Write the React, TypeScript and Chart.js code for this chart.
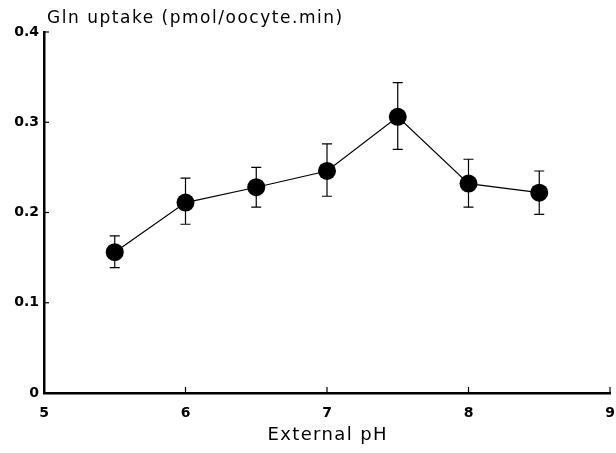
import React, { useEffect, useRef } from "react";
import { Chart, registerables } from "chart.js";

Chart.register(...registerables);

const phValues = [5.5, 6, 6.5, 7, 7.5, 8, 8.5];
const uptake = [0.156, 0.211, 0.228, 0.246, 0.306, 0.232, 0.222];
const errUpper = [0.174, 0.238, 0.25, 0.276, 0.344, 0.259, 0.246];
const errLower = [0.139, 0.187, 0.206, 0.218, 0.27, 0.206, 0.198];
const xTickValues = [5, 6, 7, 8, 9];
const yTickValues = [0, 0.1, 0.2, 0.3, 0.4];
const yTitle = "Gln uptake (pmol/oocyte.min)";
const xTitle = "External pH";

const FONT = "'DejaVu Sans', 'Liberation Sans', Arial, sans-serif";

const drawSpaced = (ctx: CanvasRenderingContext2D, text: string, x: number, y: number, targetWidth: number, align: "left" | "center") => {
  (ctx as any).letterSpacing = "0px";
  const w0 = ctx.measureText(text).width;
  const extra = (targetWidth - w0) / Math.max(1, text.length - 1);
  (ctx as any).letterSpacing = `${extra.toFixed(2)}px`;
  const w = w0 + extra * (text.length - 1);
  const startX = align === "center" ? x - w / 2 : x;
  ctx.textAlign = "left";
  ctx.fillText(text, startX, y);
  (ctx as any).letterSpacing = "0px";
};

const customPlugin = {
  id: "custom",
  beforeDatasetsDraw(chart: any) {
    const ctx = chart.ctx as CanvasRenderingContext2D;
    const xs = chart.scales.x;
    const ys = chart.scales.y;
    ctx.save();
    ctx.strokeStyle = "#000";
    ctx.lineWidth = 1.2;
    phValues.forEach((ph, i) => {
      const px = xs.getPixelForValue(ph);
      const top = ys.getPixelForValue(errUpper[i]);
      const bot = ys.getPixelForValue(errLower[i]);
      ctx.beginPath();
      ctx.moveTo(px, top);
      ctx.lineTo(px, bot);
      ctx.moveTo(px - 5, top);
      ctx.lineTo(px + 5, top);
      ctx.moveTo(px - 5, bot);
      ctx.lineTo(px + 5, bot);
      ctx.stroke();
    });
    ctx.restore();
  },
  afterDraw(chart: any) {
    const ctx = chart.ctx as CanvasRenderingContext2D;
    const xs = chart.scales.x;
    const ys = chart.scales.y;
    const area = chart.chartArea;
    ctx.save();
    ctx.strokeStyle = "#000";
    ctx.lineWidth = 1.2;
    xTickValues.forEach((v) => {
      if (v === xTickValues[0]) return;
      const px = xs.getPixelForValue(v);
      ctx.beginPath();
      ctx.moveTo(px, area.bottom);
      ctx.lineTo(px, area.bottom - 6);
      ctx.stroke();
    });
    yTickValues.forEach((v) => {
      if (v === yTickValues[0]) return;
      const py = ys.getPixelForValue(v);
      ctx.beginPath();
      ctx.moveTo(area.left, py);
      ctx.lineTo(area.left + 5, py);
      ctx.stroke();
    });
    ctx.fillStyle = "#000";
    ctx.textBaseline = "middle";
    ctx.font = `17px ${FONT}`;
    drawSpaced(ctx, yTitle, 47, 19, 295, "left");
    ctx.font = `18px ${FONT}`;
    drawSpaced(ctx, xTitle, (area.left + area.right) / 2, 435, 119, "center");
    ctx.restore();
  },
};

export default function App() {
  const ref = useRef<HTMLCanvasElement | null>(null);
  useEffect(() => {
    if (!ref.current) return;
    const chart = new Chart(ref.current, {
      type: "line",
      data: {
        datasets: [
          {
            data: phValues.map((x, i) => ({ x, y: uptake[i] })),
            borderColor: "#000",
            borderWidth: 1.2,
            backgroundColor: "#000",
            pointBackgroundColor: "#000",
            pointBorderColor: "#000",
            pointRadius: 9,
            pointBorderWidth: 0,
            tension: 0,
          },
        ],
      },
      options: {
        animation: false,
        responsive: false,
        devicePixelRatio: 1,
        layout: { autoPadding: false, padding: { top: 32, right: 6, left: 0, bottom: 0 } },
        plugins: { legend: { display: false }, tooltip: { enabled: false }, title: { display: false } },
        scales: {
          x: {
            type: "linear",
            min: 5,
            max: 9,
            afterFit: (s: any) => {
              s.height = 60;
              s.paddingLeft = 0;
              s.paddingRight = 0;
            },
            afterBuildTicks: (s: any) => {
              s.ticks = xTickValues.map((v) => ({ value: v }));
            },
            grid: { display: false, drawTicks: false },
            border: { display: true, color: "#000", width: 2.5 },
            ticks: {
              color: "#000",
              padding: 12,
              font: { family: FONT, size: 14, weight: "bold" },
              callback: (v: any) => String(v),
            },
          },
          y: {
            type: "linear",
            min: 0,
            max: 0.4,
            afterFit: (s: any) => {
              s.width = 44;
              s.paddingTop = 0;
              s.paddingBottom = 0;
            },
            afterBuildTicks: (s: any) => {
              s.ticks = yTickValues.map((v) => ({ value: v }));
            },
            grid: { display: false, drawTicks: false },
            border: { display: true, color: "#000", width: 2.5 },
            ticks: {
              color: "#000",
              padding: 5,
              font: { family: FONT, size: 14, weight: "bold" },
              callback: (v: any) => (v === 0 ? "0" : Number(v).toFixed(1)),
            },
          },
        },
      },
      plugins: [customPlugin],
    } as any);
    return () => chart.destroy();
  }, []);
  return (
    <div style={{ position: "absolute", left: 0, top: 0, width: 616, height: 453, background: "#fff" }}>
      <canvas ref={ref} width={616} height={453} style={{ width: 616, height: 453, display: "block" }} />
    </div>
  );
}
